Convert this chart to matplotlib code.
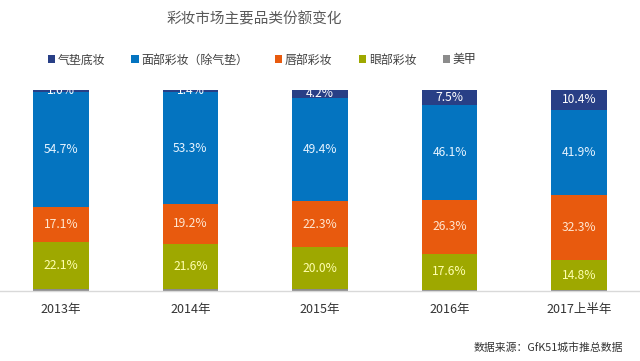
import matplotlib
matplotlib.use("Agg")
import matplotlib.pyplot as plt
from matplotlib.patches import Patch
import numpy as np

plt.rcParams['font.family'] = ['Noto Sans CJK SC', 'DejaVu Sans']

categories = ["2013年", "2014年", "2015年", "2016年", "2017上半年"]
series_names = ["气垫底妆", "面部彩妆（除气垫）", "唇部彩妆", "眼部彩妆", "美甲"]
cushion = [1.0, 1.4, 4.2, 7.5, 10.4]
face = [54.7, 53.3, 49.4, 46.1, 41.9]
lip = [17.1, 19.2, 22.3, 26.3, 32.3]
eye = [22.1, 21.6, 20.0, 17.6, 14.8]
nail = [1.0, 1.0, 0.9, 0.6, 0.5]

colors = {"气垫底妆": "#283F86", "面部彩妆（除气垫）": "#0474C0", "唇部彩妆": "#E85A0E",
          "眼部彩妆": "#9EA800", "美甲": "#8C8C8C"}
label_colors = {"气垫底妆": "#FFFFFF", "面部彩妆（除气垫）": "#E8F4FF", "唇部彩妆": "#FFE6D0",
                "眼部彩妆": "#FFFFB0"}

fig = plt.figure(figsize=(6.4, 3.61), dpi=100)
ax = fig.add_axes([0.0, 1 - 291 / 361, 1.0, (291 - 89.5) / 361])

x = np.arange(len(categories))
stack_order = [("美甲", nail), ("眼部彩妆", eye), ("唇部彩妆", lip),
               ("面部彩妆（除气垫）", face), ("气垫底妆", cushion)]
totals = np.sum([np.array(v) for _, v in stack_order], axis=0)
bottom = np.zeros(len(categories))
width = 0.43
for name, vals in stack_order:
    v = np.array(vals)
    h = v / totals
    ax.bar(x, h, width, bottom=bottom, color=colors[name], linewidth=0)
    if name != "美甲":
        for i in range(len(categories)):
            ax.text(x[i], bottom[i] + h[i] / 2, f"{v[i]:.1f}%", ha='center', va='center',
                    fontsize=8.7, color=label_colors[name], clip_on=True)
    bottom += h

ax.set_xlim(-0.47, 4.47)
ax.set_ylim(0, 1)
for s in ["top", "left", "right"]:
    ax.spines[s].set_visible(False)
ax.spines["bottom"].set_color("#D9D9D9")
ax.spines["bottom"].set_linewidth(1.0)
ax.set_yticks([])
ax.set_xticks(x)
ax.set_xticklabels(categories, fontsize=9, color="#333333")
ax.tick_params(axis='x', length=0, pad=9)

fig.text(0.398, 1 - 19 / 361, "彩妆市场主要品类份额变化", ha='center', va='center',
         fontsize=10.5, color="#595959")

handles = [Patch(facecolor=colors[n], edgecolor='none') for n in series_names]
fig.legend(handles, series_names, ncol=5, loc='center', bbox_to_anchor=(262 / 640, 1 - 60 / 361),
           frameon=False, fontsize=8.6, handlelength=0.6, handleheight=0.6, handletextpad=0.25,
           columnspacing=2.2, labelcolor="#404040")

fig.text(623 / 640, 1 - 348 / 361, "数据来源：GfK51城市推总数据", ha='right', va='center',
         fontsize=7.8, color="#333333")

fig.savefig("out.png", dpi=100)
